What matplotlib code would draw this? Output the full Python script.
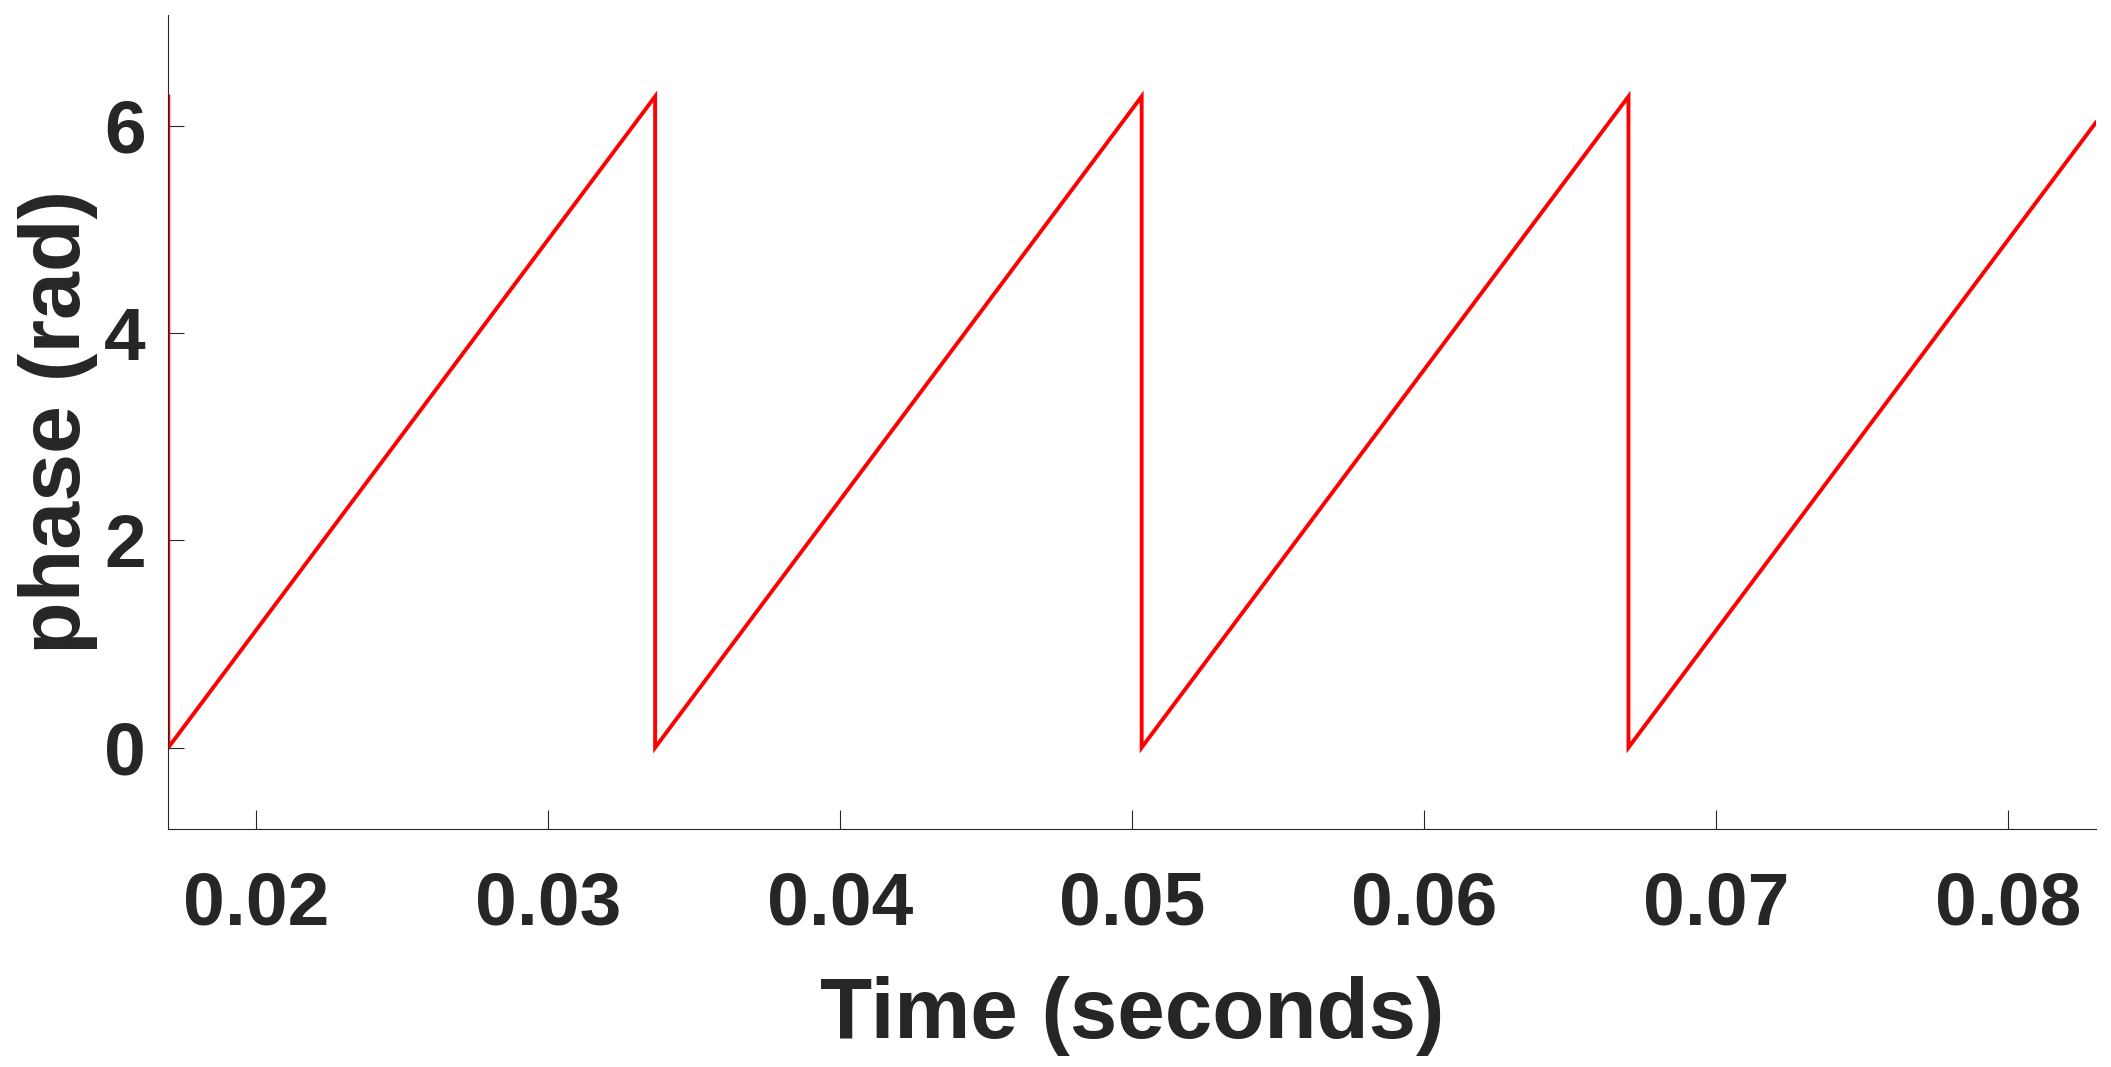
import numpy as np
import matplotlib
matplotlib.use("Agg")
import matplotlib.pyplot as plt

# Data: wrapped phase (sawtooth) breakpoints
time_s = [0.0170, 0.0170, 0.03367, 0.03367, 0.05033, 0.05033, 0.0670, 0.0670, 0.0830]
phase_rad = [6.2832, 0.0, 6.2832, 0.0, 6.2832, 0.0, 6.2832, 0.0, 6.03]

xticks = [0.02, 0.03, 0.04, 0.05, 0.06, 0.07, 0.08]
xticklabels = ["0.02", "0.03", "0.04", "0.05", "0.06", "0.07", "0.08"]
yticks = [0, 2, 4, 6]
yticklabels = ["0", "2", "4", "6"]

plt.rcParams['font.family'] = ['Liberation Sans', 'DejaVu Sans']
plt.rcParams['font.weight'] = 'bold'

fig = plt.figure(figsize=(21.11, 10.67), dpi=100)
ax = fig.add_axes([0.0796, 0.2231, 0.9133, 0.7628])

ax.plot(time_s, phase_rad, color='#ff0000', linewidth=2.8, solid_joinstyle='miter')

ax.set_xlim(0.01699, 0.08301)
ax.set_ylim(-np.pi / 4, 2 * np.pi + np.pi / 4)

ax.set_xticks(xticks)
ax.set_xticklabels(xticklabels)
ax.set_yticks(yticks)
ax.set_yticklabels(yticklabels)

textc = '#262626'
for side in ['top', 'right']:
    ax.spines[side].set_visible(False)
for side in ['left', 'bottom']:
    ax.spines[side].set_color(textc)
    ax.spines[side].set_linewidth(0.8)

ax.tick_params(axis='x', direction='in', length=14, width=0.8, color=textc,
               labelsize=54, labelcolor=textc, pad=30)
ax.tick_params(axis='y', direction='in', length=11.5, width=0.8, color=textc,
               labelsize=54, labelcolor=textc, pad=16)
for lab in ax.get_xticklabels() + ax.get_yticklabels():
    lab.set_fontweight('bold')

ax.set_xlabel('Time (seconds)', fontsize=61.5, fontweight='bold', color=textc, labelpad=26)
ax.set_ylabel('phase (rad)', fontsize=62, fontweight='bold', color=textc, labelpad=4)

fig.savefig('out.png', dpi=100, facecolor='white')
